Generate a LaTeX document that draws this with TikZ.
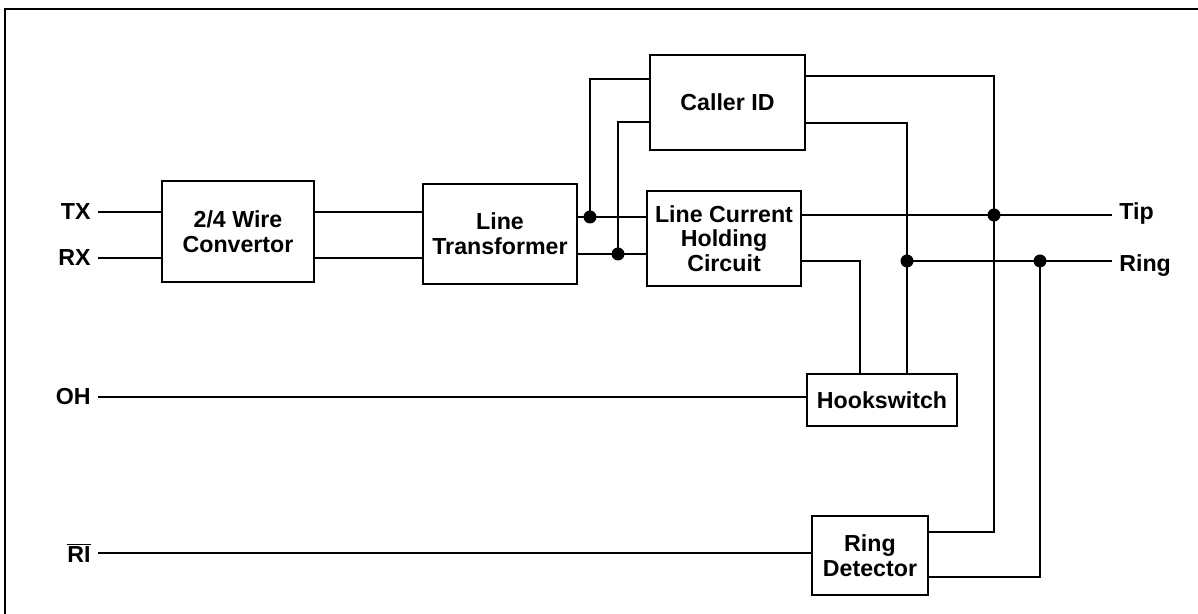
\documentclass[tikz,border=0pt]{standalone}
\usepackage{fontspec}
\setmainfont{Liberation Sans}

\tikzset{blk/.style={draw, line width=1.2pt, align=center, inner sep=0pt},
  pin/.style={inner xsep=4pt, inner ysep=0pt},
  wire/.style={line width=1.2pt},
  jdot/.style={fill, radius=0.13cm}}

\begin{document}
\begin{tikzpicture}[x=0.02cm, y=-0.02cm, font=\fontsize{13.2}{14}\selectfont\bfseries]
\useasboundingbox (0,0) rectangle (1198,614);
\draw[line width=1.6pt] (5,614) -- (5,9) -- (1198,9);
% blocks
\node[blk, minimum width=3.04cm, minimum height=2.02cm] (conv) at (238,231.5) {2/4 Wire\\Convertor};
\node[blk, minimum width=3.08cm, minimum height=2.00cm] (xfmr) at (500,234) {Line\\Transformer};
\node[blk, minimum width=3.10cm, minimum height=1.90cm] (cid) at (727.5,102.5) {Caller ID};
\node[blk, minimum width=3.08cm, minimum height=1.90cm] (lchc) at (724,238.5) {Line Current\\Holding\\Circuit};
\node[blk, minimum width=3.00cm, minimum height=1.04cm] (hook) at (882,400) {Hookswitch};
\node[blk, minimum width=2.32cm, minimum height=1.58cm] (rdet) at (870,555.5) {Ring\\Detector};
% pins
\node[pin, anchor=east] (tx) at (98,212) {TX};
\node[pin, anchor=east] (rx) at (98,258) {RX};
\node[pin, anchor=east] (oh) at (98,397) {OH};
\node[pin, anchor=east] (ri) at (98,553) {$\overline{\mbox{RI}}$};
\node[pin, anchor=west] (tip) at (1112,214) {Tip};
\node[pin, anchor=west] (ring) at (1112,266) {Ring};
% junctions
\coordinate (t1) at (590,217);
\coordinate (r1) at (618,254);
\coordinate (tj) at (994,215);
\coordinate (hj) at (907,261);
\coordinate (rgj) at (1040,261);
% wires
\draw[wire] (tx.east) -- (tx.east -| conv.west);
\draw[wire] (rx.east) -- (rx.east -| conv.west);
\draw[wire] (conv.east |- tx) -- (xfmr.west |- tx);
\draw[wire] (conv.east |- rx) -- (xfmr.west |- rx);
\draw[wire] (xfmr.east |- t1) -- (lchc.west |- t1);
\draw[wire] (xfmr.east |- r1) -- (lchc.west |- r1);
\draw[wire] ([yshift=0.47cm]cid.west) -| (t1);
\draw[wire] ([yshift=-0.39cm]cid.west) -| (r1);
\draw[wire] ([yshift=0.53cm]cid.east) -| (tj) |- ([yshift=0.47cm]rdet.east);
\draw[wire] ([yshift=-0.41cm]cid.east) -| (hook.north -| hj);
\draw[wire] (lchc.east |- tj) -- (tip.west |- tj);
\draw[wire] (lchc.east |- hj) -| ([xshift=-0.44cm]hook.north);
\draw[wire] (hj) -- (ring.west |- hj);
\draw[wire] ([yshift=-0.43cm]rdet.east) -| (rgj);
\draw[wire] (oh.east) -- (oh.east -| hook.west);
\draw[wire] (ri.east) -- (ri.east -| rdet.west);
\foreach \j in {t1,r1,tj,hj,rgj}
  \fill[jdot] (\j) circle;
\end{tikzpicture}
\end{document}
